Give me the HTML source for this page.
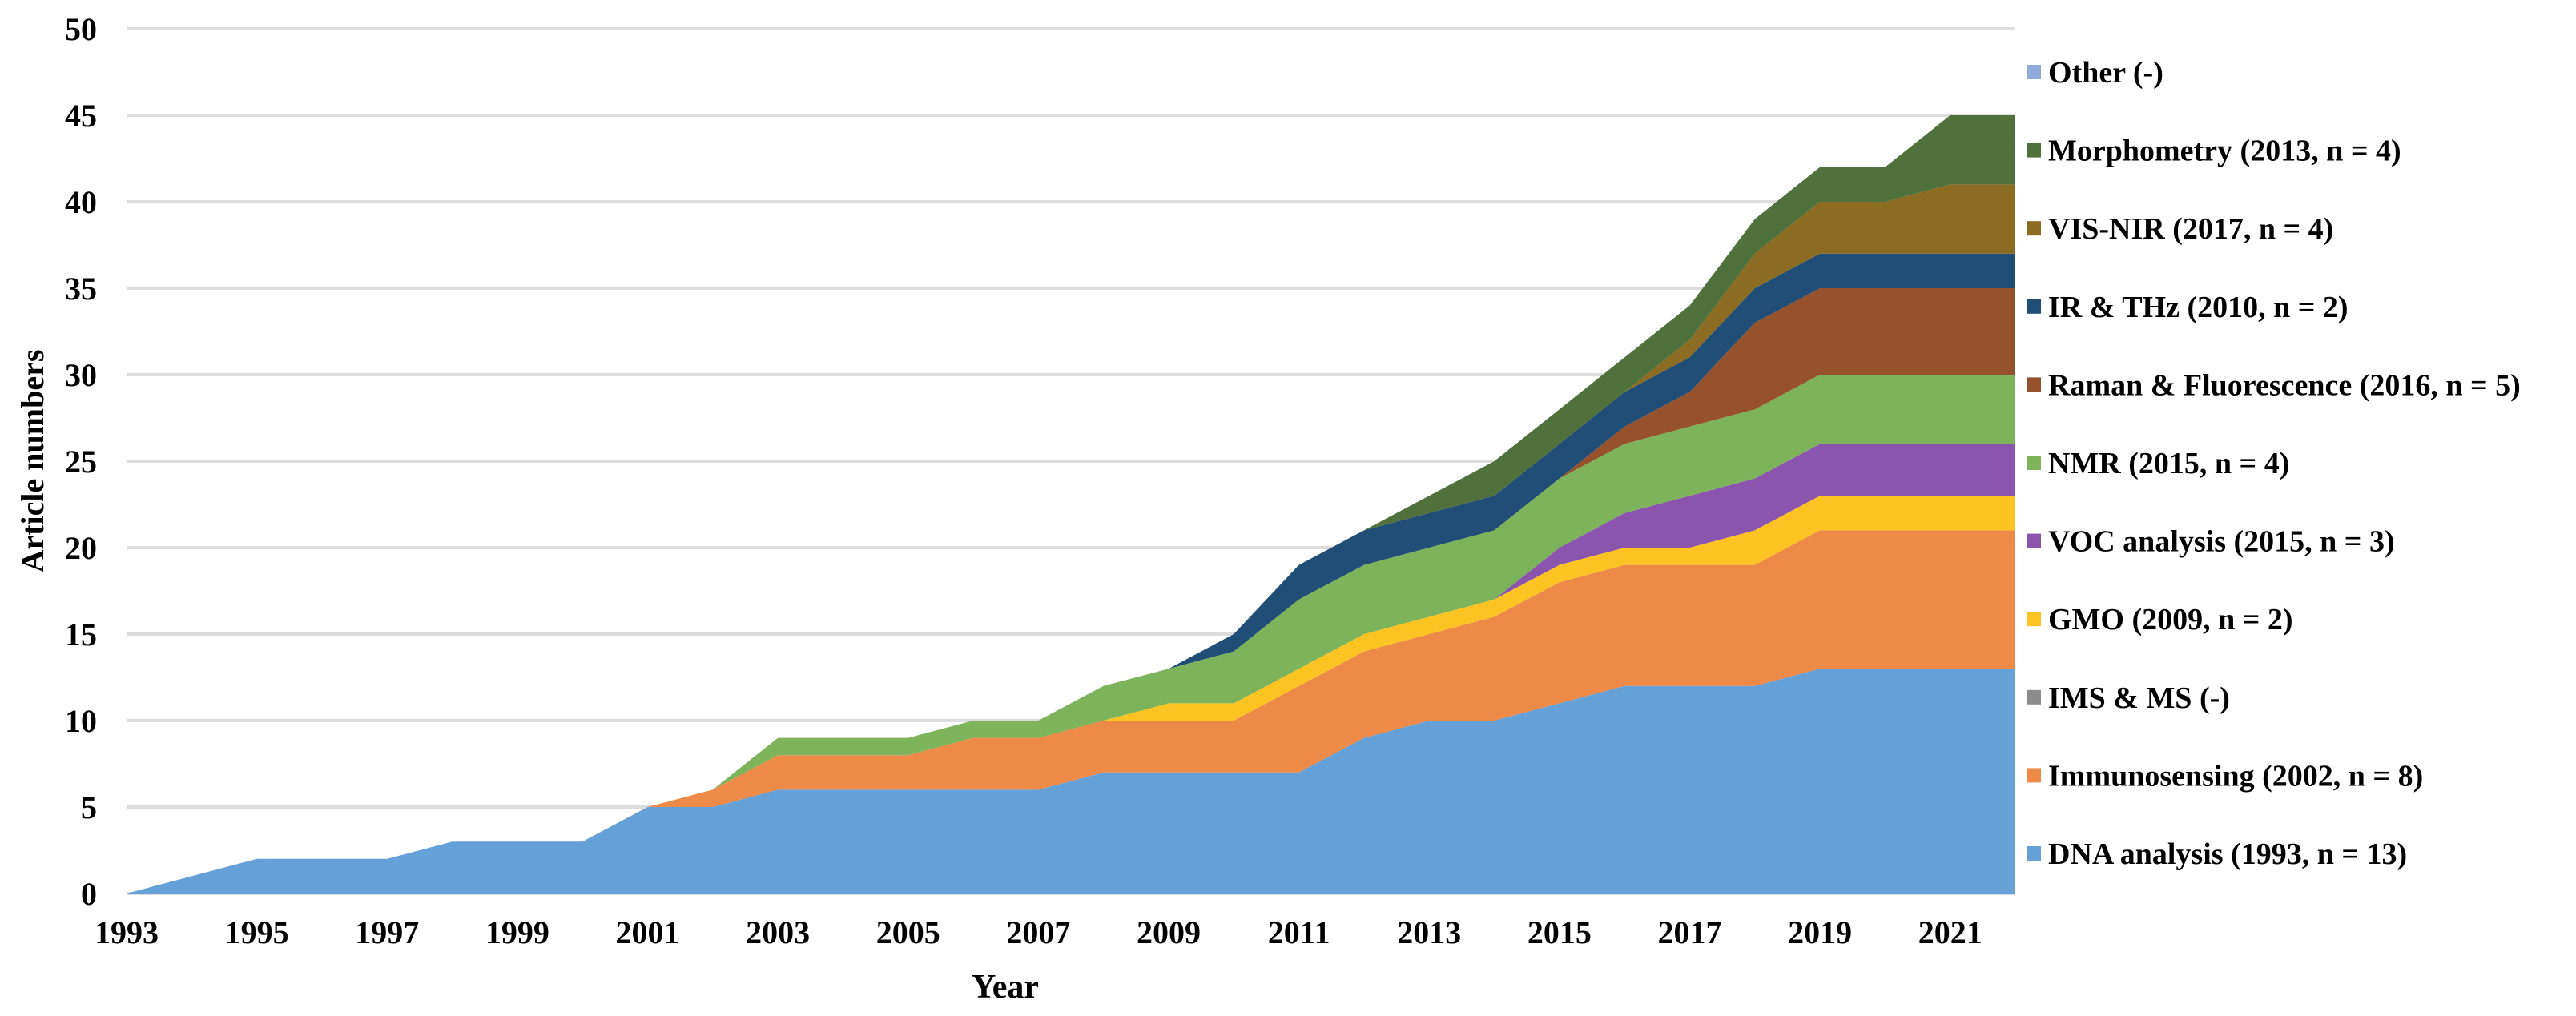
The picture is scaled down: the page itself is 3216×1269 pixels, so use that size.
<!DOCTYPE html>
<html><head><meta charset="utf-8"><style>
html,body{margin:0;padding:0;background:#fff;}
svg{display:block;font-family:"Liberation Serif",serif;font-weight:bold;}
</style></head><body>
<svg id="chart" width="3216" height="1269" viewBox="0 0 3216 1269" xmlns="http://www.w3.org/2000/svg">
<g id="grid"></g>
<g id="areas"></g>
<g id="yticks"></g>
<g id="xticks"></g>
<g id="legend"></g>
<text x="1255" y="1246" font-size="42" text-anchor="middle">Year</text>
<text transform="translate(54,576) rotate(-90)" font-size="40" text-anchor="middle">Article numbers</text>
</svg>
<script>
const years = [1993,1994,1995,1996,1997,1998,1999,2000,2001,2002,2003,2004,2005,2006,2007,2008,2009,2010,2011,2012,2013,2014,2015,2016,2017,2018,2019,2020,2021,2022];
const dnaValues   = [0,1,2,2,2,3,3,3,5,5,6,6,6,6,6,7,7,7,7,9,10,10,11,12,12,12,13,13,13,13];
const immunoValues= [0,0,0,0,0,0,0,0,0,1,2,2,2,3,3,3,3,3,5,5,5,6,7,7,7,7,8,8,8,8];
const imsValues   = [0,0,0,0,0,0,0,0,0,0,0,0,0,0,0,0,0,0,0,0,0,0,0,0,0,0,0,0,0,0];
const gmoValues   = [0,0,0,0,0,0,0,0,0,0,0,0,0,0,0,0,1,1,1,1,1,1,1,1,1,2,2,2,2,2];
const vocValues   = [0,0,0,0,0,0,0,0,0,0,0,0,0,0,0,0,0,0,0,0,0,0,1,2,3,3,3,3,3,3];
const nmrValues   = [0,0,0,0,0,0,0,0,0,0,1,1,1,1,1,2,2,3,4,4,4,4,4,4,4,4,4,4,4,4];
const ramanValues = [0,0,0,0,0,0,0,0,0,0,0,0,0,0,0,0,0,0,0,0,0,0,0,1,2,5,5,5,5,5];
const irValues    = [0,0,0,0,0,0,0,0,0,0,0,0,0,0,0,0,0,1,2,2,2,2,2,2,2,2,2,2,2,2];
const visValues   = [0,0,0,0,0,0,0,0,0,0,0,0,0,0,0,0,0,0,0,0,0,0,0,0,1,2,3,3,4,4];
const morphValues = [0,0,0,0,0,0,0,0,0,0,0,0,0,0,0,0,0,0,0,0,1,2,2,2,2,2,2,2,4,4];
const otherValues = [0,0,0,0,0,0,0,0,0,0,0,0,0,0,0,0,0,0,0,0,0,0,0,0,0,0,0,0,0,0];
const yTicks = [0,5,10,15,20,25,30,35,40,45,50];
const xTickLabels = [1993,1995,1997,1999,2001,2003,2005,2007,2009,2011,2013,2015,2017,2019,2021];
const seriesNames = ["DNA analysis (1993, n = 13)","Immunosensing (2002, n = 8)","IMS & MS (-)","GMO (2009, n = 2)","VOC analysis (2015, n = 3)","NMR (2015, n = 4)","Raman & Fluorescence (2016, n = 5)","IR & THz (2010, n = 2)","VIS-NIR (2017, n = 4)","Morphometry (2013, n = 4)","Other (-)"];
const seriesValues = [dnaValues,immunoValues,imsValues,gmoValues,vocValues,nmrValues,ramanValues,irValues,visValues,morphValues,otherValues];
const seriesColors = ["#65a0d7","#ee8a48","#8c8c8c","#fdc322","#8b55ae","#7db35a","#96522c","#214e77","#8c6c22","#50703c","#8eaadb"];
const seriesKeys = ["dna","immunosensing","ims-ms","gmo","voc","nmr","raman","ir-thz","vis-nir","morphometry","other"];

const NS="http://www.w3.org/2000/svg";
const x0=158,x1=2516,y0=1116,yTop=36;
const xs = y => x0 + (y-years[0])*(x1-x0)/(years[years.length-1]-years[0]);
const ys = v => y0 - v*(y0-yTop)/50;
function mk(t,a){const e=document.createElementNS(NS,t);for(const k in a)e.setAttribute(k,a[k]);return e;}

const grid=document.getElementById('grid');
yTicks.forEach(v=>{
  const l=mk('line',{x1:x0,x2:x1,y1:ys(v),y2:ys(v),stroke:'#dcdcdc','stroke-width':4});
  
  
  grid.appendChild(l);
});
const yt=document.getElementById('yticks');
yTicks.forEach(v=>{
  const t=mk('text',{x:121,y:ys(v)+14,'font-size':40,'text-anchor':'end'});
  t.textContent=v;
  
  
  yt.appendChild(t);
});
const xt=document.getElementById('xticks');
xTickLabels.forEach(v=>{
  const t=mk('text',{x:xs(v),y:1178,'font-size':40,'text-anchor':'middle'});
  t.textContent=v;
  
  
  xt.appendChild(t);
});

const areas=document.getElementById('areas');
let base=years.map(()=>0);
seriesValues.forEach((vals,si)=>{
  const top=base.map((b,i)=>b+vals[i]);
  let d='M'+years.map((y,i)=>xs(y)+','+ys(top[i])).join(' L');
  for(let i=years.length-1;i>=0;i--) d+=' L'+xs(years[i])+','+ys(base[i]);
  d+=' Z';
  const p=mk('path',{d:d,fill:seriesColors[si]});
  
  
  areas.appendChild(p);
  base=top;
});

const lg=document.getElementById('legend');
const legendOrder=[10,9,8,7,6,5,4,3,2,1,0];
legendOrder.forEach((si,k)=>{
  const cy=91+k*97.6;
  const g=mk('g',{});
  
  
  const r=mk('rect',{x:2530,y:cy-10,width:18,height:18,fill:seriesColors[si]});
  
  
  const t=mk('text',{x:2557,y:cy+12,'font-size':38});
  t.textContent=seriesNames[si];
  
  
  g.appendChild(r);g.appendChild(t);lg.appendChild(g);
});
</script>
</body></html>
